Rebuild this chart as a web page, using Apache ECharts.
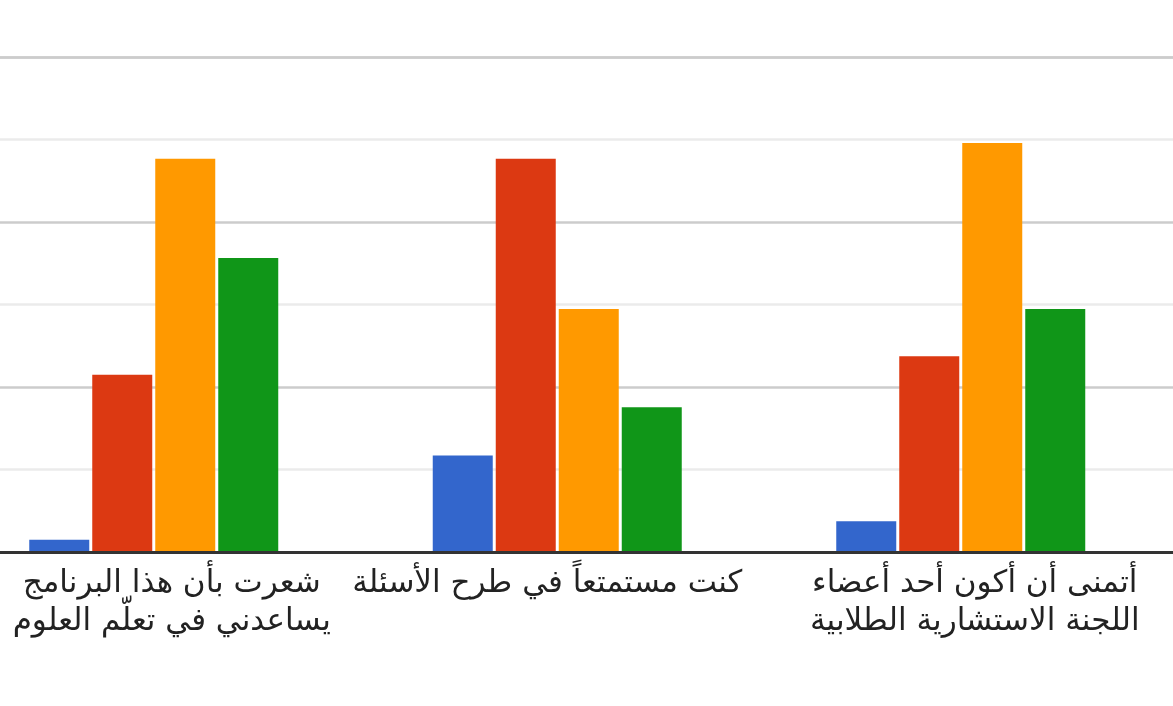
<!DOCTYPE html>
<html>
<head>
<meta charset="utf-8">
<script src="https://cdn.jsdelivr.net/npm/echarts@6/dist/echarts.min.js"></script>
<style>
html,body{margin:0;padding:0;background:#fff;overflow:hidden;width:1173px;height:706px;}
#chart{width:1221px;height:706px;margin-left:-48px;}
</style>
</head>
<body>
<div id="chart"></div>
<script>
// Categories (axis labels)
const categories = [
  'شعرت بأن هذا البرنامج\nيساعدني في تعلّم العلوم',
  'كنت مستمتعاً في طرح الأسئلة',
  'أتمنى أن أكون أحد أعضاء\nاللجنة الاستشارية الطلابية'
];
// Series values (percent of responses)
const seriesBlue   = [1.4, 11.0, 3.5];
const seriesRed    = [20.2, 44.8, 22.3];
const seriesOrange = [44.8, 27.7, 46.6];
const seriesGreen  = [33.5, 16.5, 27.7];
const seriesNames  = ['1', '2', '3', '4'];
const colors = ['#3366cc', '#dc3912', '#ff9900', '#109618'];
// Value axis (labels hidden): major gridline step, with one minor line between
const yMajor = 18.8;
const yMax = yMajor * 3;

const chart = echarts.init(document.getElementById('chart'), null, {renderer: 'canvas'});
const allSeries = [seriesBlue, seriesRed, seriesOrange, seriesGreen];

const labelFont = {color: '#222222', fontFamily: 'DejaVu Sans', fontSize: 31, lineHeight: 38};
const option = {
  animation: false,
  backgroundColor: '#ffffff',
  grid: [
    {left: 48, right: 0, top: 57, bottom: 154},
    {left: 0, right: 10.5, top: 57, bottom: 154}
  ],
  xAxis: [
    {
      type: 'category', gridIndex: 0, data: [''], z: 5,
      axisLine: {show: true, lineStyle: {color: '#333333', width: 3}},
      axisTick: {show: false}, axisLabel: {show: false}, splitLine: {show: false}
    },
    {
      type: 'category', gridIndex: 1, data: categories,
      axisLine: {show: false}, axisTick: {show: false}, splitLine: {show: false},
      axisLabel: Object.assign({
        interval: 0, margin: 13,
        formatter: (v, i) => '{s' + i + '|' + v + '}',
        rich: {
          s0: Object.assign({padding: [0, 0, 0, 36]}, labelFont),
          s1: Object.assign({padding: [0, 20, 0, 0]}, labelFont),
          s2: Object.assign({padding: [0, 0, 0, 28]}, labelFont)
        }
      }, labelFont)
    }
  ],
  yAxis: [
    {
      type: 'value', gridIndex: 0, min: 0, max: yMax, interval: yMajor,
      axisLine: {show: false}, axisTick: {show: false}, axisLabel: {show: false},
      splitLine: {show: true, lineStyle: {color: '#cccccc', width: 2.5}},
      minorTick: {show: false, splitNumber: 2},
      minorSplitLine: {show: true, lineStyle: {color: '#ebebeb', width: 2.5}}
    },
    {
      type: 'value', gridIndex: 1, min: 0, max: yMax, interval: yMajor, show: false,
      splitLine: {show: false}
    }
  ],
  series: allSeries.map((d, i) => ({
    name: seriesNames[i],
    type: 'bar',
    xAxisIndex: 1, yAxisIndex: 1,
    data: d,
    barWidth: 60,
    barGap: '5%',
    itemStyle: {color: colors[i]}
  }))
};
chart.setOption(option);
</script>
</body>
</html>
